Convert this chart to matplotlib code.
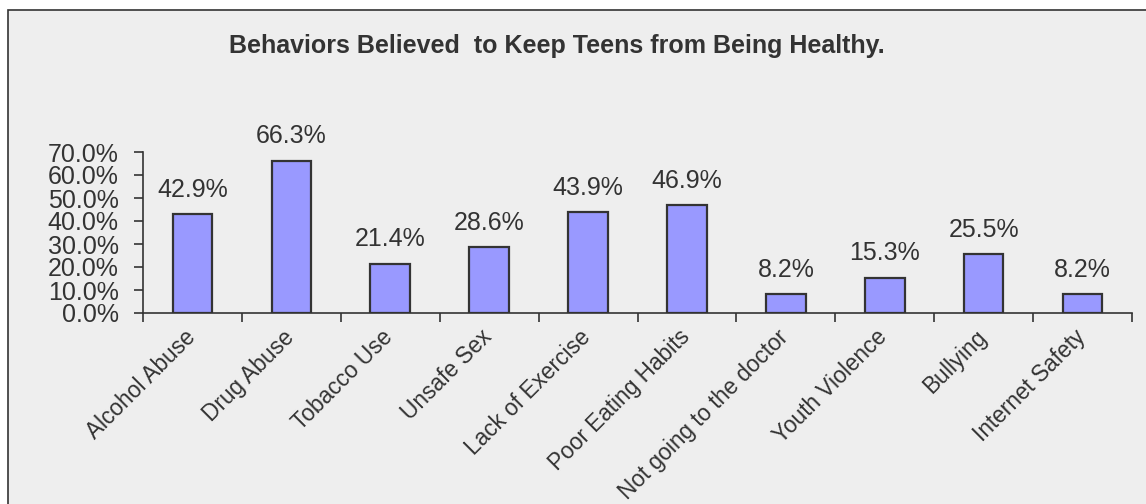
import matplotlib
matplotlib.use("Agg")
import matplotlib.pyplot as plt
from matplotlib.patches import Rectangle
from matplotlib.ticker import FuncFormatter, MultipleLocator
from matplotlib.transforms import ScaledTranslation

categories = ["Alcohol Abuse", "Drug Abuse", "Tobacco Use", "Unsafe Sex",
              "Lack of Exercise", "Poor Eating Habits", "Not going to the doctor",
              "Youth Violence", "Bullying", "Internet Safety"]
values = [42.9, 66.3, 21.4, 28.6, 43.9, 46.9, 8.2, 15.3, 25.5, 8.2]
title = "Behaviors Believed  to Keep Teens from Being Healthy."

plt.rcParams['font.family'] = ['Liberation Sans', 'DejaVu Sans']
txt = '#333333'

W, H = 1146, 504
fig = plt.figure(figsize=(W / 100, H / 100), dpi=100)
fig.patch.set_facecolor('white')

# chart frame
frame = Rectangle((8 / W, -0.05), 1.2, 1 - 10 / H + 0.05,
                  transform=fig.transFigure, facecolor='#EEEEEE',
                  edgecolor='#333333', linewidth=1.2, zorder=-10)
fig.add_artist(frame)

ax = fig.add_axes([143 / W, 1 - 313 / H, (1132 - 143) / W, (313 - 152) / H])
ax.set_facecolor('none')
ax.set_zorder(5)

x = list(range(len(categories)))
bars = ax.bar(x, values, width=0.40, color='#9999FF', edgecolor='#333333',
              linewidth=1.6, zorder=3)
for xi, v in zip(x, values):
    ax.annotate(f"{v:.1f}%", (xi, v), xytext=(0, 9), textcoords='offset points',
                ha='center', va='bottom', fontsize=18, color=txt)

ax.set_xlim(-0.5, len(categories) - 0.5)
ax.set_ylim(0, 70)
ax.yaxis.set_major_locator(MultipleLocator(10))
ax.yaxis.set_major_formatter(FuncFormatter(lambda v, p: f"{v:.1f}%"))
for s in ['top', 'right']:
    ax.spines[s].set_visible(False)
for s in ['left', 'bottom']:
    ax.spines[s].set_color('#333333')
    ax.spines[s].set_linewidth(1.2)

ax.set_xticks([i - 0.5 for i in range(len(categories) + 1)], minor=False)
ax.set_xticklabels([])
ax.set_xticks(x, minor=True)
ax.set_xticklabels(categories, minor=True, rotation=45, ha='right',
                   rotation_mode='anchor', fontsize=16.3, color=txt)
ax.tick_params(axis='x', which='minor', length=0, pad=9)
ax.tick_params(axis='x', which='major', length=6.5, direction='out', color='#333333', width=1.2)
ax.tick_params(axis='y', length=6.5, direction='out', color='#333333', width=1.2,
               labelsize=18, labelcolor=txt, pad=11)
shift = ScaledTranslation(-9 / 100, 0, fig.dpi_scale_trans)
for lab in ax.get_xticklabels(minor=True):
    lab.set_transform(lab.get_transform() + shift)

fig.text(557 / W, 1 - 46 / H, title, ha='center', va='center',
         fontsize=18, fontweight='bold', color=txt)

fig.savefig('out.png', dpi=100, facecolor='white')
